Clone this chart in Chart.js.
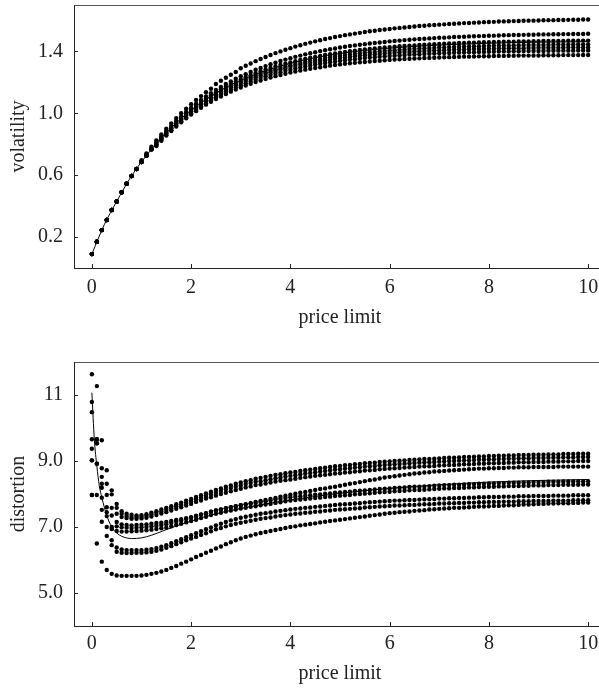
<!DOCTYPE html>
<html>
<head>
<meta charset="utf-8">
<script src="https://cdn.jsdelivr.net/npm/chart.js@4"></script>
<style>
  html, body { margin: 0; padding: 0; background: #fff; width: 599px; height: 688px; overflow: hidden; }
  canvas { position: absolute; left: 0; }
  #volChart { top: 0; }
  #distChart { top: 345px; }
</style>
</head>
<body>
<canvas id="volChart" width="620" height="345"></canvas>
<canvas id="distChart" width="620" height="343"></canvas>
<script>
// price limit grid shared by every dotted series
const priceLimit = [
  0,0.1,0.2,0.3,0.4,0.5,0.6,0.7,0.8,0.9,
  1,1.1,1.2,1.3,1.4,1.5,1.6,1.7,1.8,1.9,
  2,2.1,2.2,2.3,2.4,2.5,2.6,2.7,2.8,2.9,
  3,3.1,3.2,3.3,3.4,3.5,3.6,3.7,3.8,3.9,
  4,4.1,4.2,4.3,4.4,4.5,4.6,4.7,4.8,4.9,
  5,5.1,5.2,5.3,5.4,5.5,5.6,5.7,5.8,5.9,
  6,6.1,6.2,6.3,6.4,6.5,6.6,6.7,6.8,6.9,
  7,7.1,7.2,7.3,7.4,7.5,7.6,7.7,7.8,7.9,
  8,8.1,8.2,8.3,8.4,8.5,8.6,8.7,8.8,8.9,
  9,9.1,9.2,9.3,9.4,9.5,9.6,9.7,9.8,9.9,
  10
];

// volatility panel
const volA = [
  0.09,0.17,0.245,0.31,0.375,0.43,0.49,0.545,0.595,0.64,
  0.696,0.741,0.784,0.825,0.864,0.900,0.935,0.969,1.000,1.030,
  1.059,1.086,1.111,1.136,1.159,1.189,1.210,1.230,1.249,1.267,
  1.291,1.307,1.322,1.337,1.351,1.364,1.377,1.389,1.400,1.411,
  1.421,1.431,1.440,1.449,1.457,1.465,1.472,1.480,1.486,1.493,
  1.499,1.505,1.510,1.515,1.520,1.525,1.530,1.534,1.538,1.542,
  1.545,1.549,1.552,1.555,1.558,1.561,1.564,1.566,1.569,1.571,
  1.573,1.575,1.577,1.579,1.581,1.583,1.584,1.586,1.587,1.589,
  1.590,1.591,1.593,1.594,1.595,1.596,1.597,1.598,1.599,1.599,
  1.600,1.601,1.602,1.602,1.603,1.603,1.604,1.605,1.605,1.606,
  1.606
];
const volB = [
  0.09,0.17,0.245,0.31,0.375,0.43,0.49,0.545,0.595,0.64,
  0.685,0.727,0.768,0.813,0.850,0.886,0.919,0.951,0.981,1.009,
  1.036,1.062,1.086,1.109,1.130,1.151,1.170,1.189,1.206,1.223,
  1.239,1.253,1.267,1.281,1.293,1.305,1.317,1.327,1.338,1.347,
  1.356,1.365,1.373,1.381,1.388,1.395,1.402,1.408,1.414,1.419,
  1.425,1.430,1.435,1.439,1.443,1.447,1.451,1.455,1.458,1.461,
  1.465,1.468,1.470,1.473,1.475,1.478,1.480,1.482,1.484,1.486,
  1.488,1.489,1.491,1.493,1.494,1.495,1.497,1.498,1.499,1.500,
  1.501,1.502,1.503,1.504,1.505,1.506,1.506,1.507,1.508,1.508,
  1.509,1.510,1.510,1.511,1.511,1.512,1.512,1.513,1.513,1.513,
  1.514
];
const volC = [
  0.09,0.17,0.245,0.31,0.375,0.43,0.49,0.545,0.595,0.64,
  0.685,0.727,0.768,0.809,0.845,0.880,0.912,0.943,0.972,1.000,
  1.026,1.050,1.074,1.096,1.116,1.136,1.155,1.172,1.189,1.204,
  1.219,1.233,1.246,1.259,1.271,1.282,1.293,1.303,1.312,1.321,
  1.329,1.337,1.345,1.352,1.359,1.365,1.371,1.377,1.382,1.387,
  1.392,1.397,1.401,1.405,1.409,1.412,1.416,1.419,1.422,1.425,
  1.428,1.430,1.433,1.435,1.437,1.439,1.441,1.443,1.445,1.447,
  1.448,1.450,1.451,1.452,1.454,1.455,1.456,1.457,1.458,1.459,
  1.460,1.461,1.461,1.462,1.463,1.463,1.464,1.465,1.465,1.466,
  1.466,1.467,1.467,1.468,1.468,1.468,1.469,1.469,1.469,1.470,
  1.470
];
const volD = [
  0.09,0.17,0.245,0.31,0.375,0.43,0.49,0.545,0.595,0.64,
  0.685,0.727,0.768,0.802,0.838,0.872,0.904,0.935,0.963,0.990,
  1.016,1.040,1.063,1.084,1.104,1.124,1.142,1.159,1.175,1.190,
  1.205,1.218,1.231,1.243,1.255,1.265,1.276,1.285,1.295,1.303,
  1.311,1.319,1.326,1.333,1.340,1.346,1.351,1.357,1.362,1.367,
  1.372,1.376,1.380,1.384,1.388,1.391,1.394,1.397,1.400,1.403,
  1.406,1.408,1.410,1.413,1.415,1.417,1.419,1.420,1.422,1.423,
  1.425,1.426,1.428,1.429,1.430,1.431,1.432,1.433,1.434,1.435,
  1.436,1.437,1.437,1.438,1.439,1.439,1.440,1.441,1.441,1.442,
  1.442,1.442,1.443,1.443,1.444,1.444,1.444,1.445,1.445,1.445,
  1.445
];
const volE = [
  0.09,0.17,0.245,0.31,0.375,0.43,0.49,0.545,0.595,0.64,
  0.685,0.727,0.768,0.800,0.836,0.870,0.901,0.931,0.959,0.986,
  1.011,1.035,1.057,1.078,1.098,1.117,1.134,1.151,1.167,1.182,
  1.196,1.209,1.221,1.233,1.244,1.255,1.265,1.274,1.283,1.291,
  1.299,1.306,1.313,1.320,1.326,1.332,1.338,1.343,1.348,1.352,
  1.357,1.361,1.365,1.368,1.372,1.375,1.378,1.381,1.384,1.387,
  1.389,1.391,1.394,1.396,1.397,1.399,1.401,1.403,1.404,1.406,
  1.407,1.408,1.410,1.411,1.412,1.413,1.414,1.415,1.416,1.416,
  1.417,1.418,1.419,1.419,1.420,1.420,1.421,1.421,1.422,1.422,
  1.423,1.423,1.424,1.424,1.424,1.425,1.425,1.425,1.425,1.426,
  1.426
];
const volF = [
  0.09,0.17,0.245,0.31,0.375,0.43,0.49,0.545,0.595,0.64,
  0.685,0.727,0.768,0.792,0.827,0.860,0.891,0.921,0.948,0.975,
  0.999,1.023,1.045,1.065,1.085,1.103,1.121,1.137,1.153,1.167,
  1.181,1.194,1.206,1.218,1.229,1.239,1.249,1.258,1.266,1.275,
  1.282,1.289,1.296,1.303,1.309,1.315,1.320,1.325,1.330,1.334,
  1.339,1.343,1.347,1.350,1.354,1.357,1.360,1.363,1.365,1.368,
  1.370,1.372,1.375,1.377,1.379,1.380,1.382,1.384,1.385,1.386,
  1.388,1.389,1.390,1.391,1.392,1.393,1.394,1.395,1.396,1.397,
  1.398,1.398,1.399,1.400,1.400,1.401,1.401,1.402,1.402,1.403,
  1.403,1.403,1.404,1.404,1.405,1.405,1.405,1.405,1.406,1.406,
  1.406
];
const volG = [
  0.09,0.17,0.245,0.31,0.375,0.43,0.49,0.545,0.595,0.64,
  0.685,0.727,0.768,0.789,0.823,0.856,0.886,0.915,0.942,0.968,
  0.992,1.014,1.036,1.056,1.075,1.092,1.109,1.125,1.140,1.154,
  1.167,1.179,1.191,1.202,1.212,1.222,1.231,1.240,1.248,1.256,
  1.263,1.270,1.276,1.282,1.288,1.293,1.298,1.303,1.308,1.312,
  1.316,1.320,1.323,1.326,1.330,1.332,1.335,1.338,1.340,1.343,
  1.345,1.347,1.349,1.351,1.352,1.354,1.355,1.357,1.358,1.359,
  1.361,1.362,1.363,1.364,1.365,1.366,1.366,1.367,1.368,1.369,
  1.369,1.370,1.371,1.371,1.372,1.372,1.373,1.373,1.373,1.374,
  1.374,1.375,1.375,1.375,1.375,1.376,1.376,1.376,1.376,1.377,
  1.377
];
const volCurveX = [0,0.25,0.5,0.75,1,1.5,2,2.5,3,4,5,6,7,8,9,10];
const volCurveY = [0.09,0.28,0.43,0.57,0.686,0.875,1.02,1.13,1.214,1.323,1.386,1.421,1.441,1.453,1.46,1.463];

// distortion panel
const distA = [
  11.63,11.27,9.63,8.72,8.11,7.70,7.48,7.40,7.37,7.35,
  7.36,7.39,7.43,7.48,7.53,7.58,7.63,7.69,7.74,7.80,
  7.85,7.91,7.96,8.02,8.07,8.12,8.17,8.22,8.26,8.31,
  8.35,8.39,8.42,8.46,8.49,8.52,8.55,8.58,8.60,8.63,
  8.65,8.67,8.70,8.72,8.74,8.76,8.78,8.80,8.82,8.84,
  8.85,8.87,8.88,8.90,8.91,8.93,8.94,8.95,8.97,8.98,
  8.99,9.00,9.01,9.02,9.03,9.04,9.05,9.06,9.06,9.07,
  9.08,9.09,9.10,9.10,9.11,9.12,9.12,9.13,9.14,9.14,
  9.15,9.15,9.16,9.16,9.17,9.17,9.18,9.18,9.18,9.19,
  9.19,9.19,9.20,9.20,9.20,9.21,9.21,9.21,9.22,9.22,
  9.22
];
const distB = [
  10.79,9.66,8.78,8.31,7.99,7.58,7.40,7.33,7.30,7.30,
  7.31,7.34,7.38,7.43,7.47,7.52,7.57,7.63,7.67,7.73,
  7.78,7.84,7.89,7.94,7.99,8.04,8.09,8.14,8.18,8.22,
  8.26,8.30,8.33,8.37,8.39,8.42,8.45,8.48,8.50,8.53,
  8.55,8.57,8.60,8.62,8.64,8.66,8.68,8.70,8.72,8.74,
  8.75,8.77,8.78,8.80,8.81,8.83,8.84,8.85,8.87,8.88,
  8.89,8.90,8.91,8.92,8.93,8.94,8.95,8.96,8.96,8.97,
  8.98,8.99,9.00,9.00,9.01,9.02,9.02,9.03,9.04,9.04,
  9.05,9.05,9.06,9.06,9.07,9.07,9.08,9.08,9.08,9.09,
  9.09,9.09,9.10,9.10,9.10,9.11,9.11,9.11,9.12,9.12,
  9.12
];
const distC = [
  10.48,9.54,8.52,7.97,7.58,7.40,7.30,7.27,7.25,7.25,
  7.26,7.28,7.32,7.36,7.41,7.45,7.50,7.55,7.60,7.65,
  7.70,7.76,7.80,7.86,7.90,7.95,8.00,8.04,8.08,8.12,
  8.16,8.20,8.23,8.27,8.29,8.32,8.35,8.38,8.40,8.42,
  8.44,8.46,8.49,8.51,8.53,8.55,8.57,8.58,8.60,8.62,
  8.63,8.65,8.66,8.68,8.69,8.71,8.72,8.73,8.75,8.76,
  8.77,8.78,8.79,8.80,8.81,8.82,8.83,8.84,8.84,8.85,
  8.86,8.87,8.88,8.88,8.89,8.90,8.90,8.91,8.92,8.92,
  8.93,8.93,8.94,8.94,8.95,8.95,8.96,8.96,8.96,8.97,
  8.97,8.97,8.98,8.98,8.98,8.99,8.99,8.99,9.00,9.00,
  9.00
];
const distD = [
  9.66,8.92,8.31,7.60,7.35,7.15,7.08,7.06,7.05,7.06,
  7.07,7.08,7.10,7.12,7.13,7.15,7.18,7.21,7.24,7.27,
  7.30,7.34,7.38,7.42,7.46,7.50,7.53,7.57,7.60,7.63,
  7.66,7.69,7.72,7.76,7.79,7.82,7.85,7.88,7.92,7.95,
  7.98,8.01,8.04,8.06,8.09,8.12,8.15,8.17,8.20,8.22,
  8.25,8.28,8.31,8.33,8.36,8.39,8.42,8.44,8.47,8.50,
  8.52,8.54,8.56,8.58,8.60,8.62,8.63,8.65,8.66,8.68,
  8.69,8.70,8.71,8.72,8.73,8.74,8.75,8.76,8.77,8.77,
  8.78,8.78,8.79,8.79,8.80,8.80,8.81,8.81,8.81,8.82,
  8.82,8.82,8.82,8.82,8.83,8.83,8.83,8.83,8.83,8.83,
  8.83
];
const distE = [
  9.37,9.66,8.19,7.33,7.00,7.02,6.99,6.98,6.97,6.98,
  6.99,7.00,7.02,7.04,7.06,7.08,7.12,7.16,7.20,7.24,
  7.28,7.32,7.37,7.41,7.46,7.50,7.53,7.57,7.60,7.63,
  7.66,7.68,7.71,7.73,7.76,7.78,7.80,7.83,7.85,7.88,
  7.90,7.92,7.93,7.95,7.96,7.98,7.99,8.01,8.02,8.04,
  8.05,8.06,8.07,8.09,8.10,8.11,8.12,8.14,8.15,8.16,
  8.17,8.18,8.19,8.20,8.21,8.22,8.22,8.23,8.24,8.25,
  8.26,8.27,8.27,8.28,8.28,8.29,8.30,8.30,8.31,8.31,
  8.32,8.32,8.33,8.33,8.34,8.34,8.34,8.35,8.35,8.36,
  8.36,8.36,8.37,8.37,8.37,8.38,8.38,8.38,8.38,8.39,
  8.39
];
const distF = [
  9.02,7.97,7.89,7.45,6.94,6.88,6.86,6.86,6.87,6.88,
  6.89,6.90,6.92,6.94,6.96,6.98,7.02,7.06,7.10,7.14,
  7.18,7.22,7.27,7.31,7.36,7.40,7.43,7.47,7.50,7.53,
  7.56,7.58,7.61,7.63,7.66,7.68,7.70,7.73,7.75,7.78,
  7.80,7.82,7.83,7.85,7.86,7.88,7.89,7.91,7.92,7.94,
  7.95,7.96,7.97,7.99,8.00,8.01,8.02,8.04,8.05,8.06,
  8.07,8.08,8.09,8.10,8.11,8.12,8.12,8.13,8.14,8.15,
  8.16,8.17,8.17,8.18,8.18,8.19,8.20,8.20,8.21,8.21,
  8.22,8.22,8.23,8.23,8.24,8.24,8.24,8.25,8.25,8.26,
  8.26,8.26,8.27,8.27,8.27,8.28,8.28,8.28,8.28,8.29,
  8.29
];
const distG = [
  7.97,8.92,7.52,6.73,6.60,6.38,6.32,6.30,6.30,6.30,
  6.30,6.31,6.33,6.36,6.40,6.45,6.51,6.57,6.63,6.69,
  6.75,6.81,6.87,6.93,6.99,7.05,7.10,7.15,7.20,7.24,
  7.28,7.31,7.34,7.37,7.40,7.42,7.44,7.47,7.49,7.51,
  7.53,7.55,7.56,7.58,7.59,7.61,7.62,7.64,7.65,7.67,
  7.68,7.69,7.70,7.71,7.72,7.74,7.75,7.76,7.77,7.78,
  7.79,7.80,7.80,7.81,7.82,7.82,7.83,7.84,7.84,7.85,
  7.86,7.86,7.87,7.87,7.88,7.88,7.89,7.89,7.90,7.90,
  7.91,7.91,7.91,7.92,7.92,7.92,7.93,7.93,7.93,7.94,
  7.94,7.94,7.94,7.95,7.95,7.95,7.95,7.96,7.96,7.96,
  7.96
];
const distH = [
  9.02,9.54,7.16,7.00,6.45,6.25,6.22,6.21,6.21,6.22,
  6.22,6.23,6.25,6.28,6.32,6.37,6.42,6.48,6.54,6.60,
  6.65,6.70,6.76,6.81,6.87,6.93,6.97,7.02,7.06,7.10,
  7.13,7.16,7.19,7.22,7.25,7.27,7.29,7.32,7.34,7.36,
  7.38,7.40,7.41,7.43,7.44,7.46,7.47,7.49,7.50,7.52,
  7.53,7.54,7.55,7.56,7.57,7.59,7.60,7.61,7.62,7.63,
  7.64,7.65,7.65,7.66,7.67,7.67,7.68,7.69,7.69,7.70,
  7.71,7.71,7.72,7.72,7.73,7.73,7.74,7.74,7.75,7.75,
  7.76,7.76,7.76,7.77,7.77,7.77,7.78,7.78,7.78,7.79,
  7.79,7.79,7.79,7.80,7.80,7.80,7.80,7.81,7.81,7.81,
  7.81
];
const distI = [
  7.97,6.50,5.95,5.70,5.58,5.53,5.52,5.52,5.52,5.52,
  5.53,5.55,5.58,5.61,5.65,5.70,5.76,5.82,5.89,5.95,
  6.02,6.09,6.15,6.22,6.28,6.35,6.41,6.48,6.54,6.60,
  6.65,6.70,6.74,6.78,6.82,6.85,6.88,6.91,6.94,6.97,
  7.00,7.02,7.05,7.07,7.09,7.11,7.14,7.16,7.18,7.20,
  7.22,7.24,7.26,7.28,7.30,7.32,7.34,7.36,7.38,7.40,
  7.42,7.43,7.45,7.46,7.47,7.49,7.50,7.51,7.53,7.54,
  7.55,7.56,7.57,7.58,7.58,7.59,7.60,7.61,7.62,7.62,
  7.63,7.64,7.64,7.65,7.66,7.66,7.67,7.68,7.68,7.69,
  7.70,7.70,7.71,7.71,7.72,7.72,7.72,7.73,7.73,7.74,
  7.74
];
const distCurveX = [0,0.05,0.1,0.15,0.2,0.3,0.4,0.5,0.6,0.8,1,1.2,1.5,2,2.5,3,3.5,4,5,6,7,8,9,10];
const distCurveY = [11.07,9.65,8.85,8.25,7.90,7.35,7.00,6.82,6.72,6.65,6.67,6.75,6.92,7.18,7.40,7.56,7.70,7.82,8.02,8.17,8.28,8.36,8.41,8.44];

// axes
const xTicks = [0, 2, 4, 6, 8, 10];
const volTicks = [0.2, 0.6, 1.0, 1.4];
const volTickLabels = ['0.2', '0.6', '1.0', '1.4'];
const distTicks = [5, 7, 9, 11];
const distTickLabels = ['5.0', '7.0', '9.0', '11'];

const serif = 'Liberation Serif';
const ink = '#222';
const fontSize = 20;

// box round the plot plus short inward tick marks
const framePlugin = {
  id: 'frame',
  beforeDatasetsDraw(chart) {
    const { ctx, chartArea: a, scales } = chart;
    ctx.save();
    ctx.lineWidth = 1;
    ctx.strokeStyle = '#555';
    ctx.strokeRect(a.left + 0.5, a.top + 0.5, a.right - a.left, a.bottom - a.top);
    ctx.strokeStyle = ink;
    ctx.beginPath();
    ctx.moveTo(a.left + 0.5, a.top);
    ctx.lineTo(a.left + 0.5, a.bottom + 0.5);
    ctx.lineTo(a.right, a.bottom + 0.5);
    scales.x.ticks.forEach(t => {
      const px = Math.round(scales.x.getPixelForValue(t.value)) + 0.5;
      ctx.moveTo(px, a.bottom);
      ctx.lineTo(px, a.bottom - 4);
    });
    scales.y.ticks.forEach(t => {
      const py = Math.round(scales.y.getPixelForValue(t.value)) + 0.5;
      ctx.moveTo(a.left, py);
      ctx.lineTo(a.left + 4, py);
    });
    ctx.stroke();
    ctx.restore();
  }
};

function makePanel(id, series, curveX, curveY, cfg) {
  const dots = series.map(vals => ({
    type: 'scatter',
    data: priceLimit.map((x, i) => ({ x: x, y: vals[i] })),
    pointRadius: 2.2,
    pointBackgroundColor: '#000',
    pointBorderWidth: 0,
    showLine: false,
    order: 1
  }));
  const curve = {
    type: 'line',
    data: curveX.map((x, i) => ({ x: x, y: curveY[i] })),
    borderColor: '#000',
    borderWidth: 1,
    pointRadius: 0,
    cubicInterpolationMode: 'monotone',
    fill: false,
    order: 2
  };
  return new Chart(document.getElementById(id), {
    type: 'scatter',
    data: { datasets: dots.concat([curve]) },
    options: {
      responsive: false,
      animation: false,
      events: [],
      layout: { padding: { top: cfg.padTop, right: 14, left: 0, bottom: 0 } },
      plugins: { legend: { display: false }, tooltip: { enabled: false } },
      scales: {
        x: {
          type: 'linear',
          min: -0.36,
          max: 10.36,
          afterFit: s => { s.height = cfg.xAxisHeight; s.paddingLeft = 0; s.paddingRight = 0; },
          afterBuildTicks: s => { s.ticks = xTicks.map(v => ({ value: v })); },
          grid: { display: false, drawTicks: false },
          border: { display: false },
          ticks: { padding: cfg.xTickPad, color: ink, maxRotation: 0, font: { family: serif, size: fontSize }, callback: v => String(v) },
          title: { display: true, text: 'price limit', color: ink, font: { family: serif, size: fontSize }, padding: { top: 0, bottom: cfg.titlePad } }
        },
        y: {
          type: 'linear',
          min: cfg.yMin,
          max: cfg.yMax,
          afterFit: s => { s.width = 74; s.paddingTop = 0; s.paddingBottom = 0; },
          afterBuildTicks: s => { s.ticks = cfg.yTicks.map(v => ({ value: v })); },
          grid: { display: false, drawTicks: false },
          border: { display: false },
          ticks: { padding: 11, color: ink, font: { family: serif, size: fontSize }, callback: (v, i) => cfg.yLabels[i] },
          title: { display: true, text: cfg.yTitle, color: ink, font: { family: serif, size: fontSize }, padding: { top: 7, bottom: 0 } }
        }
      }
    },
    plugins: [framePlugin]
  });
}

makePanel('volChart', [volA, volB, volC, volD, volE, volF, volG], volCurveX, volCurveY, {
  padTop: 5, xAxisHeight: 77, titlePad: 15, xTickPad: 8,
  yMin: 0, yMax: 1.7, yTicks: volTicks, yLabels: volTickLabels, yTitle: 'volatility'
});

makePanel('distChart', [distA, distB, distC, distD, distE, distF, distG, distH, distI], distCurveX, distCurveY, {
  padTop: 17, xAxisHeight: 62, titlePad: 2, xTickPad: 6,
  yMin: 4, yMax: 12, yTicks: distTicks, yLabels: distTickLabels, yTitle: 'distortion'
});
</script>
</body>
</html>
